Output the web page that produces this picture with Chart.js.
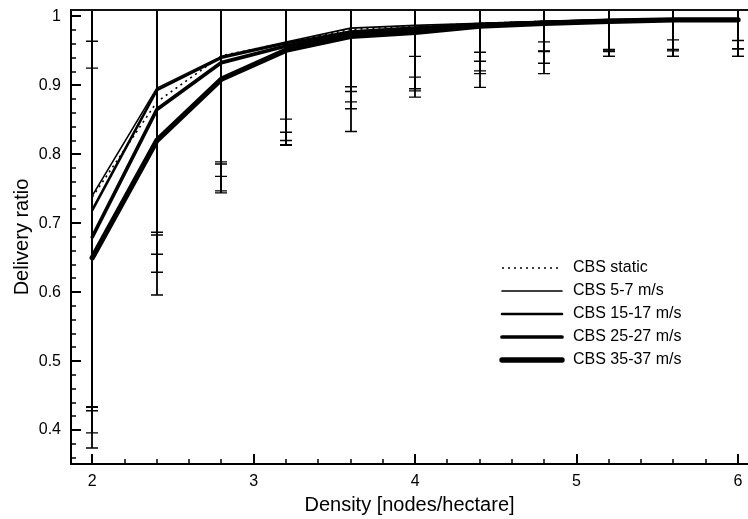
<!DOCTYPE html>
<html>
<head>
<meta charset="utf-8">
<script src="https://cdn.jsdelivr.net/npm/chart.js@4"></script>
<style>
html,body{margin:0;padding:0;background:#fff;overflow:hidden;}
canvas{display:block;}
</style>
</head>
<body>
<canvas id="c" width="748" height="519"></canvas>
<script>
// ---- data ----
const density = [2, 2.4, 2.8, 3.2, 3.6, 4, 4.4, 4.8, 5.2, 5.6, 6];
const seriesNames = ['CBS static', 'CBS 5-7 m/s', 'CBS 15-17 m/s', 'CBS 25-27 m/s', 'CBS 35-37 m/s'];

const ratioStatic = [0.738, 0.876, 0.943, 0.962, 0.981, 0.986, 0.990, 0.993, 0.995, 0.995, 0.995];
const ratio5_7    = [0.740, 0.896, 0.942, 0.963, 0.983, 0.987, 0.990, 0.993, 0.995, 0.995, 0.995];
const ratio15_17  = [0.719, 0.893, 0.940, 0.961, 0.978, 0.984, 0.989, 0.992, 0.994, 0.995, 0.995];
const ratio25_27  = [0.680, 0.865, 0.933, 0.957, 0.975, 0.981, 0.988, 0.991, 0.994, 0.995, 0.995];
const ratio35_37  = [0.650, 0.820, 0.909, 0.951, 0.971, 0.977, 0.986, 0.990, 0.993, 0.995, 0.995];

const lowStatic = [0.434, 0.655, 0.789, 0.851, 0.898, 0.942, 0.948, 0.963, 0.952, 0.966, 0.965];
const low5_7    = [0.428, 0.687, 0.786, 0.832, 0.891, 0.912, 0.935, 0.950, 0.950, 0.952, 0.953];
const low15_17  = [0.433, 0.683, 0.768, 0.820, 0.876, 0.895, 0.921, 0.949, 0.949, 0.950, 0.953];
const low25_27  = [0.396, 0.629, 0.747, 0.814, 0.866, 0.892, 0.917, 0.932, 0.942, 0.942, 0.942];
const low35_37  = [0.374, 0.596, 0.744, 0.813, 0.833, 0.883, 0.897, 0.917, 0.942, 0.942, 0.942];

const highStatic = [1.042, 1.105, 1.100, 1.073, 1.064, 1.030, 1.032, 1.023, 1.038, 1.024, 1.025];
const high5_7    = [1.052, 1.105, 1.098, 1.094, 1.075, 1.062, 1.045, 1.036, 1.040, 1.038, 1.037];
const high15_17  = [1.020, 1.103, 1.112, 1.102, 1.080, 1.073, 1.057, 1.035, 1.039, 1.040, 1.037];
const high25_27  = [0.964, 1.100, 1.119, 1.100, 1.084, 1.070, 1.059, 1.050, 1.046, 1.048, 1.048];
const high35_37  = [0.925, 1.044, 1.074, 1.089, 1.109, 1.071, 1.075, 1.063, 1.044, 1.048, 1.048];

const xTickLabels = ['2', '3', '4', '5', '6'];
const yTickLabels = ['0.4', '0.5', '0.6', '0.7', '0.8', '0.9', '1'];

// ---- styles ----
const FONT = '"Liberation Sans", Arial, Helvetica, sans-serif';
const lineWidths = [1.6, 1.6, 2.6, 3.7, 5.4];
const lineDashes = [[2, 4], [], [], [], []];
const seriesValues = [ratioStatic, ratio5_7, ratio15_17, ratio25_27, ratio35_37];
const seriesLows = [lowStatic, low5_7, low15_17, low25_27, low35_37];
const seriesHighs = [highStatic, high5_7, high15_17, high25_27, high35_37];

const datasets = seriesNames.map((name, s) => ({
  label: name,
  data: density.map((d, i) => ({x: d, y: seriesValues[s][i]})),
  borderColor: '#000',
  backgroundColor: '#000',
  borderWidth: lineWidths[s],
  borderDash: lineDashes[s],
  borderCapStyle: s === 0 ? 'butt' : 'round',
  borderJoinStyle: 'round',
  pointRadius: 0,
  tension: 0,
  fill: false
}));

function findLabel(list, v) {
  const l = list.find(t => Math.abs(parseFloat(t) - v) < 1e-6);
  return l === undefined ? '' : l;
}
function keepInRange(s) {
  s.ticks = s.ticks.filter(t => t.value >= s.min - 1e-9 && t.value <= s.max + 1e-9);
}

const framePlugin = {
  id: 'frame',
  afterDatasetsDraw(chart) {
    const {ctx, chartArea: a, scales: {x, y}} = chart;
    ctx.save();
    ctx.beginPath();
    ctx.rect(a.left, a.top, a.right - a.left, a.bottom - a.top);
    ctx.clip();
    ctx.strokeStyle = '#000';
    seriesLows.forEach((lo, s) => {
      const hi = seriesHighs[s];
      density.forEach((d, i) => {
        const px = Math.round(x.getPixelForValue(d));
        const pl = y.getPixelForValue(lo[i]);
        const ph = y.getPixelForValue(hi[i]);
        ctx.lineWidth = 1.8;
        ctx.beginPath();
        ctx.moveTo(px, pl); ctx.lineTo(px, ph);
        ctx.stroke();
        ctx.lineWidth = 1.4;
        ctx.beginPath();
        ctx.moveTo(px - 6, pl); ctx.lineTo(px + 6, pl);
        ctx.moveTo(px - 6, ph); ctx.lineTo(px + 6, ph);
        ctx.stroke();
      });
    });
    ctx.restore();
  },
  afterDraw(chart) {
    const {ctx, chartArea: a, scales: {x, y}} = chart;
    ctx.save();
    ctx.strokeStyle = '#000';
    y.ticks.forEach(t => {
      const major = findLabel(yTickLabels, t.value) !== '';
      const py = Math.round(y.getPixelForValue(t.value));
      ctx.lineWidth = major ? 2 : 1.5;
      ctx.beginPath();
      ctx.moveTo(a.left, py);
      ctx.lineTo(a.left + (major ? 10 : 5), py);
      ctx.stroke();
    });
    x.ticks.forEach(t => {
      const major = findLabel(xTickLabels, t.value) !== '';
      const px = Math.round(x.getPixelForValue(t.value));
      ctx.lineWidth = major ? 2 : 1.5;
      ctx.beginPath();
      ctx.moveTo(px, a.bottom);
      ctx.lineTo(px, a.bottom - (major ? 10 : 5));
      ctx.stroke();
    });
    // top frame line
    ctx.lineWidth = 2;
    ctx.strokeStyle = '#111';
    const ty = Math.round(a.top);
    ctx.beginPath();
    ctx.moveTo(a.left, ty);
    ctx.lineTo(a.right, ty);
    ctx.stroke();
    // legend
    const lx0 = 502, lx1 = 562, tx = 573, ly0 = 268, dy = 23;
    ctx.font = '16px ' + FONT;
    ctx.textBaseline = 'middle';
    ctx.textAlign = 'left';
    chart.data.datasets.forEach((ds, s) => {
      const ly = ly0 + s * dy;
      ctx.strokeStyle = '#000';
      ctx.lineWidth = ds.borderWidth;
      ctx.setLineDash(ds.borderDash || []);
      ctx.lineCap = s === 0 ? 'butt' : 'round';
      ctx.beginPath();
      ctx.moveTo(lx0, ly);
      ctx.lineTo(lx1, ly);
      ctx.stroke();
      ctx.setLineDash([]);
      ctx.fillStyle = '#000';
      ctx.fillText(ds.label, tx, ly);
    });
    ctx.restore();
  }
};

new Chart(document.getElementById('c'), {
  type: 'line',
  data: {datasets},
  options: {
    responsive: false,
    animation: false,
    devicePixelRatio: 1,
    layout: {padding: {top: 10, right: 0, bottom: 0, left: 0}},
    plugins: {legend: {display: false}, tooltip: {enabled: false}},
    scales: {
      x: {
        type: 'linear',
        min: 1.868,
        max: 6.062,
        afterFit(s) { s.height = 55; s.paddingRight = 0; s.paddingLeft = 0; },
        afterBuildTicks: keepInRange,
        grid: {display: false, drawTicks: false, tickLength: 0},
        border: {display: true, width: 2, color: '#000'},
        ticks: {
          stepSize: 0.2, includeBounds: false, autoSkip: false, maxTicksLimit: 1000,
          maxRotation: 0, minRotation: 0, padding: 8, color: '#000',
          font: {family: FONT, size: 16},
          callback: v => findLabel(xTickLabels, v)
        },
        title: {display: true, text: 'Density [nodes/hectare]', color: '#000',
          font: {family: FONT, size: 20}, padding: {top: 0, bottom: 2}}
      },
      y: {
        type: 'linear',
        min: 0.3508,
        max: 1.0093,
        afterFit(s) { s.width = 71; s.paddingTop = 0; s.paddingBottom = 0; },
        afterBuildTicks: keepInRange,
        grid: {display: false, drawTicks: false, tickLength: 0},
        border: {display: true, width: 2, color: '#000'},
        ticks: {
          stepSize: 0.02, includeBounds: false, autoSkip: false, maxTicksLimit: 1000,
          padding: 10, color: '#000',
          font: {family: FONT, size: 16},
          callback: v => findLabel(yTickLabels, v)
        },
        title: {display: true, text: 'Delivery ratio', color: '#000',
          font: {family: FONT, size: 20}, padding: {top: 10, bottom: 0}}
      }
    }
  },
  plugins: [framePlugin]
});
</script>
</body>
</html>
